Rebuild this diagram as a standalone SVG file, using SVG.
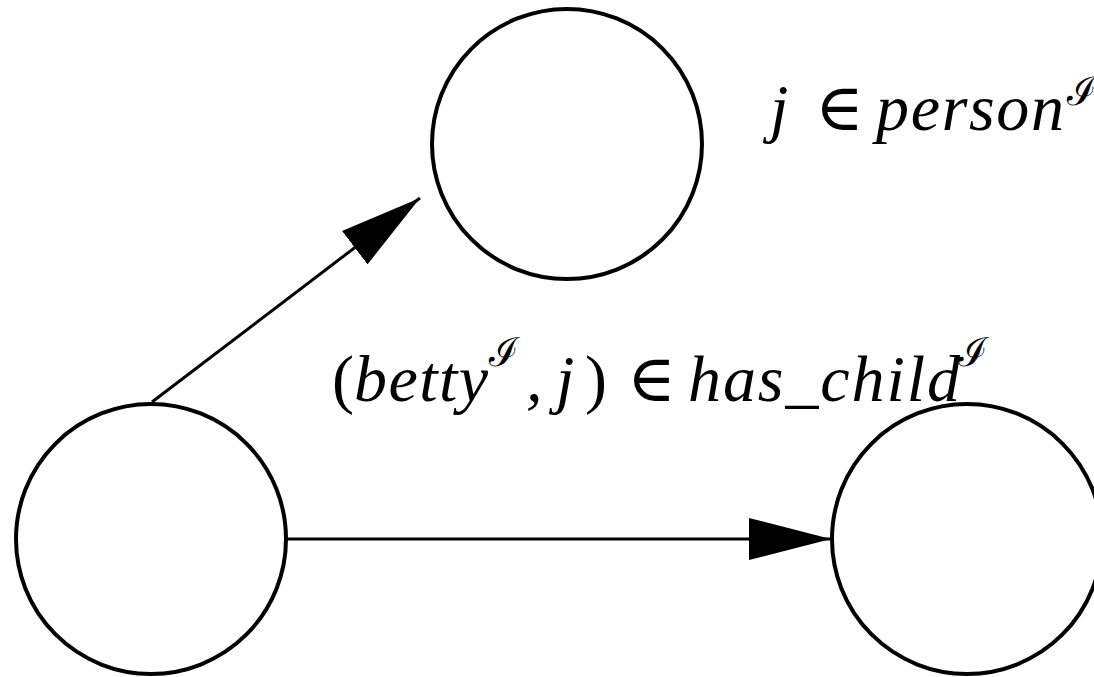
<svg xmlns="http://www.w3.org/2000/svg" width="1094" height="677" viewBox="0 0 1094 677">
<style>
.node{fill:#fff;stroke:#000;stroke-width:4}
.edge{stroke:#000;stroke-width:3;fill:none}
.lbl{font-family:"Liberation Serif","DejaVu Serif",serif;font-style:italic;font-size:66px;fill:#000}
.up{font-style:normal}
.sup{font-family:"DejaVu Serif","Liberation Serif",serif;font-size:40px;font-style:normal;fill:#000}
</style>
<defs>
<marker id="ah" markerUnits="userSpaceOnUse" markerWidth="84" markerHeight="44" refX="82" refY="22" orient="auto">
<path d="M0,1 L82,22 L0,43 Z" fill="#000"/>
</marker>
</defs>
<rect width="1094" height="677" fill="#fff"/>
<g id="connectors">
<line class="edge" x1="152" y1="402" x2="420" y2="198" marker-end="url(#ah)"/>
<line class="edge" x1="287" y1="539" x2="831" y2="539" marker-end="url(#ah)"/>
</g>
<g id="node-j"><circle class="node" cx="567" cy="144" r="135"/></g>
<g id="node-betty"><circle class="node" cx="151" cy="539" r="135"/></g>
<g id="node-right"><circle class="node" cx="967" cy="539" r="135"/></g>
<g id="label-person">
<text class="lbl" y="130"><tspan x="770">j</tspan><tspan class="up" x="815">∈</tspan><tspan x="876" textLength="188" lengthAdjust="spacing">person</tspan></text>
<text class="sup" x="1067" y="105">ℐ</text>
</g>
<g id="label-haschild">
<text class="lbl" y="401"><tspan class="up" x="332">(</tspan><tspan x="354" textLength="134" lengthAdjust="spacing">betty</tspan><tspan x="526">,</tspan><tspan x="556">j</tspan><tspan class="up" x="585">)</tspan><tspan class="up" x="627">∈</tspan><tspan x="688" textLength="272" lengthAdjust="spacing">has_child</tspan></text>
<text class="sup" x="489" y="366">ℐ</text>
<text class="sup" x="958" y="366">ℐ</text>
</g>
</svg>
